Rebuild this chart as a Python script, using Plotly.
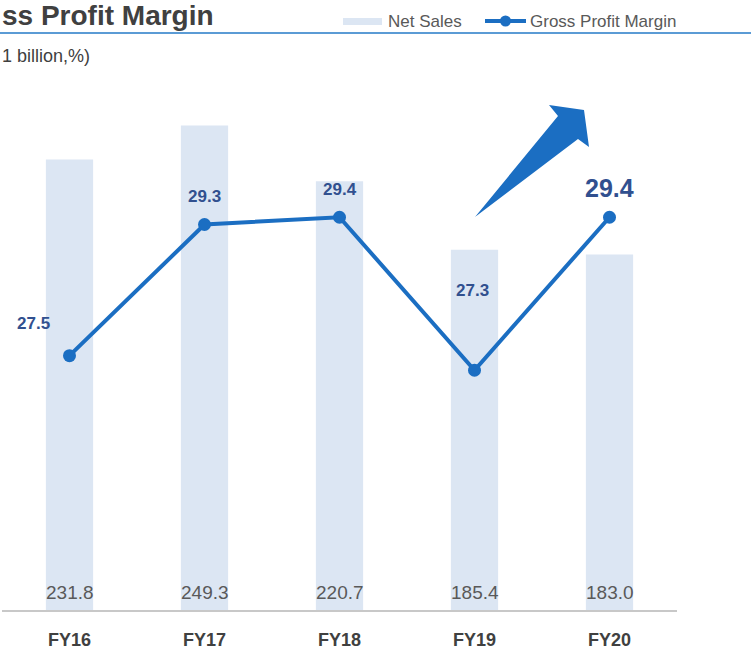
import plotly.graph_objects as go

# Data
years = ["FY16", "FY17", "FY18", "FY19", "FY20"]
net_sales = [231.8, 249.3, 220.7, 185.4, 183.0]
gross_margin = [27.5, 29.3, 29.4, 27.3, 29.4]
sales_labels = ["231.8", "249.3", "220.7", "185.4", "183.0"]
margin_labels = ["27.5", "29.3", "29.4", "27.3", "29.4"]

BAR_COLOR = "#dce6f3"
LINE_COLOR = "#1b6ec2"
LABEL_COLOR = "#31508f"
FONT = "Liberation Sans, Arial, sans-serif"

# plot area in pixels (used to place decorations in paper coords)
L, W, T, H = 2, 675, 90, 520


def px(x):
    return (x - L) / W


def py(y):
    return (T + H - y) / H


fig = go.Figure()

fig.add_trace(go.Bar(
    x=years, y=net_sales, name="Net Sales",
    marker=dict(color=BAR_COLOR, line=dict(width=0)),
    width=0.35, showlegend=False, hoverinfo="x+y",
))

fig.add_trace(go.Scatter(
    x=years, y=gross_margin, name="Gross Profit Margin", yaxis="y2",
    mode="lines+markers",
    line=dict(color=LINE_COLOR, width=4),
    marker=dict(color=LINE_COLOR, size=13),
    showlegend=False,
))

annotations = []

# net sales values at the foot of the bars
for yr, lab in zip(years, sales_labels):
    annotations.append(dict(
        x=yr, y=0, xref="x", yref="y", text=lab, showarrow=False,
        yanchor="middle", yshift=18,
        font=dict(size=19, color="#595959", family=FONT),
    ))

# margin labels, offsets per point as on the slide
shifts = [(-36, 32, 17), (0, 28, 17), (0, 28, 17), (-2, 80, 17), (0, 29, 25)]
for yr, v, lab, (dx, dy, fs) in zip(years, gross_margin, margin_labels, shifts):
    annotations.append(dict(
        x=yr, y=v, xref="x", yref="y2", text=lab, showarrow=False,
        xshift=dx, yshift=dy, yanchor="middle",
        font=dict(size=fs, color=LABEL_COLOR, family=FONT, weight="bold"),
    ))

# title (cropped on the slide) and unit note
annotations.append(dict(
    x=px(0), y=py(15), xref="paper", yref="paper", text="ss Profit Margin",
    showarrow=False, xanchor="left", yanchor="middle",
    font=dict(size=28, color="#404040", family=FONT, weight="bold"),
))
annotations.append(dict(
    x=px(0), y=py(56), xref="paper", yref="paper", text="1 billion,%)",
    showarrow=False, xanchor="left", yanchor="middle",
    font=dict(size=18, color="#404040", family=FONT),
))

# hand-made legend
annotations.append(dict(
    x=px(386), y=py(21), xref="paper", yref="paper", text="Net Sales",
    showarrow=False, xanchor="left", yanchor="middle",
    font=dict(size=17, color="#595959", family=FONT),
))
annotations.append(dict(
    x=px(528), y=py(21), xref="paper", yref="paper", text="Gross Profit Margin",
    showarrow=False, xanchor="left", yanchor="middle",
    font=dict(size=17, color="#595959", family=FONT),
))

shapes = [
    # rule under the title
    dict(type="line", xref="paper", yref="paper", x0=px(0), x1=px(751),
         y0=py(33), y1=py(33), line=dict(color="#5b9bd5", width=2)),
    # legend swatches
    dict(type="rect", xref="paper", yref="paper", x0=px(343), x1=px(382),
         y0=py(25), y1=py(18), fillcolor=BAR_COLOR, line=dict(width=0)),
    dict(type="line", xref="paper", yref="paper", x0=px(485), x1=px(526),
         y0=py(21), y1=py(21), line=dict(color=LINE_COLOR, width=4)),
    dict(type="circle", xref="paper", yref="paper", x0=px(500), x1=px(511),
         y0=py(26.5), y1=py(15.5), fillcolor=LINE_COLOR, line=dict(width=0)),
]

# big upward arrow
arrow_pts = [(475, 217), (558, 116), (549, 105), (584, 110), (589, 147), (578, 139)]
path = "M " + " L ".join(f"{px(a):.5f},{py(b):.5f}" for a, b in arrow_pts) + " Z"
shapes.append(dict(type="path", xref="paper", yref="paper", path=path,
                   fillcolor=LINE_COLOR, line=dict(width=0)))

fig.update_layout(
    width=751, height=654,
    margin=dict(l=L, r=751 - L - W, t=T, b=654 - T - H),
    plot_bgcolor="white", paper_bgcolor="white",
    font=dict(family=FONT),
    bargap=0.65,
    xaxis=dict(
        showgrid=False, zeroline=False,
        showline=True, linecolor="#c8c8c8", linewidth=2,
        ticks="outside", ticklen=12, tickcolor="rgba(0,0,0,0)",
        tickfont=dict(size=18, color="#404040", family=FONT, weight="bold"),
        range=[-0.5, 4.5],
    ),
    yaxis=dict(range=[0, 267.6], visible=False, fixedrange=True),
    yaxis2=dict(range=[24.01, 31.146], overlaying="y", visible=False),
    annotations=annotations,
    shapes=shapes,
)

# drop the page's default body margin so the figure sits at the window corner
fig.write_html("out.html", config={"displayModeBar": False},
               post_script="document.body.style.margin='0';")
